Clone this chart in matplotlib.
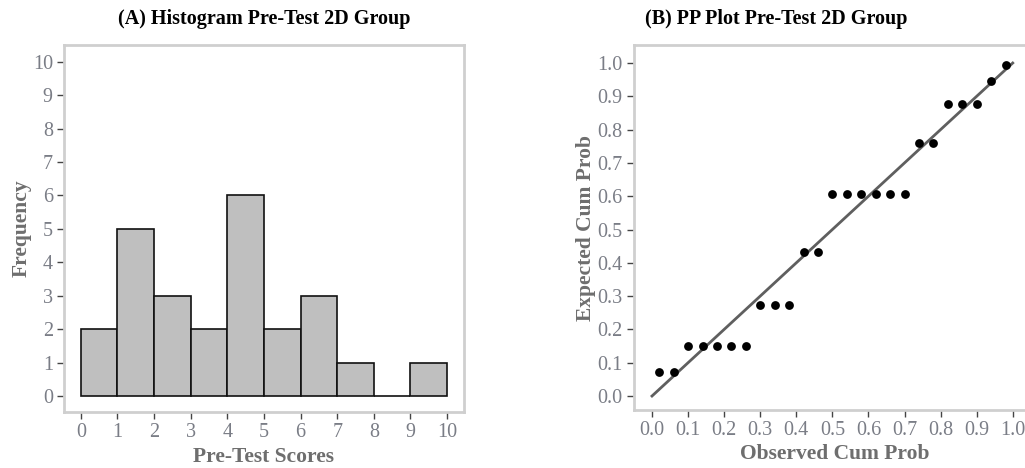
import matplotlib
matplotlib.use("Agg")
import matplotlib.pyplot as plt
import numpy as np

# Histogram of pre-test scores (2D group)
bin_edges = [0, 1, 2, 3, 4, 5, 6, 7, 8, 9, 10]
frequencies = [2, 5, 3, 2, 6, 2, 3, 1, 0, 1]

# PP plot: observed vs expected cumulative probabilities
observed_cum = [0.02, 0.06, 0.10, 0.14, 0.18, 0.22, 0.26, 0.30, 0.34, 0.38,
                0.42, 0.46, 0.50, 0.54, 0.58, 0.62, 0.66, 0.70, 0.74, 0.78,
                0.82, 0.86, 0.90, 0.94, 0.98]
expected_cum = [0.071, 0.071, 0.149, 0.149, 0.149, 0.149, 0.149, 0.273, 0.273, 0.273,
                0.433, 0.433, 0.606, 0.606, 0.606, 0.606, 0.606, 0.606, 0.760, 0.760,
                0.876, 0.876, 0.876, 0.947, 0.995]

plt.rcParams['font.family'] = ['Liberation Serif', 'DejaVu Serif']

TICK_COLOR = "#7a7d86"
LABEL_COLOR = "#6e6e6e"
FRAME_COLOR = "#cfcfcf"

fig = plt.figure(figsize=(10.25, 4.68), dpi=100)
ax1 = fig.add_axes([0.0624, 0.1197, 0.3902, 0.7841])
ax2 = fig.add_axes([0.6185, 0.1239, 0.3910, 0.7799])


def style(ax):
    for s in ax.spines.values():
        s.set_color(FRAME_COLOR)
        s.set_linewidth(2.0)
    ax.tick_params(axis='both', which='major', direction='out', length=5,
                   width=1.0, color="#444444", labelcolor=TICK_COLOR,
                   labelsize=14.5, pad=3)
    ax.tick_params(top=False, right=False)


# (A) histogram
left = np.array(bin_edges[:-1])
widths = np.diff(bin_edges)
ax1.bar(left, frequencies, width=widths, align='edge', color="#bfbfbf",
        edgecolor="#111111", linewidth=1.2)
ax1.set_xlim(-0.46, 10.46)
ax1.set_ylim(-0.48, 10.5)
ax1.set_xticks(range(0, 11))
ax1.set_yticks(range(0, 11))
style(ax1)
ax1.set_xlabel("Pre-Test Scores", fontsize=15.5, fontweight='bold', color=LABEL_COLOR, labelpad=3.5)
ax1.set_ylabel("Frequency", fontsize=15.5, fontweight='bold', color=LABEL_COLOR, labelpad=1)
ax1.set_title("(A) Histogram Pre-Test 2D Group", fontsize=14.5, fontweight='bold', pad=15)

# (B) PP plot
ax2.plot([0, 1], [0, 1], color="#5f5f5f", linewidth=2.0, zorder=2)
ax2.scatter(observed_cum, expected_cum, s=40, color="black", zorder=3, linewidths=0)
ax2.set_xlim(-0.05, 1.061)
ax2.set_ylim(-0.042, 1.054)
ticks = np.round(np.arange(0, 1.01, 0.1), 1)
ax2.set_xticks(ticks)
ax2.set_yticks(ticks)
ax2.set_xticklabels([f"{t:.1f}" for t in ticks])
ax2.set_yticklabels([f"{t:.1f}" for t in ticks])
style(ax2)
ax2.set_xlabel("Observed Cum Prob", fontsize=15.5, fontweight='bold', color=LABEL_COLOR, labelpad=3)
ax2.set_ylabel("Expected Cum Prob", fontsize=15.5, fontweight='bold', color=LABEL_COLOR, labelpad=1)
ax2.set_title("(B) PP Plot Pre-Test 2D Group", fontsize=14.5, fontweight='bold', pad=15, x=0.355)

fig.savefig("out.png", dpi=100)
